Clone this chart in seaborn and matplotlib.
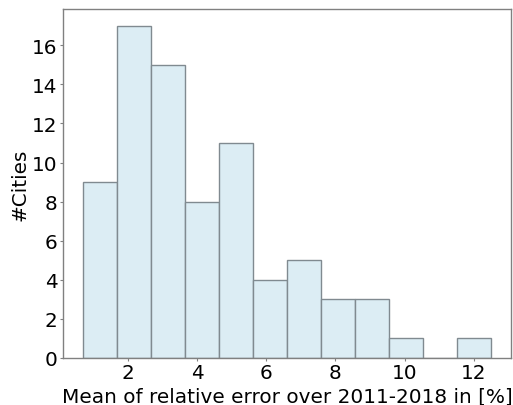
import matplotlib
matplotlib.use("Agg")
import matplotlib.pyplot as plt
import seaborn as sns
import numpy as np
import pandas as pd

# Histogram data
bin_start = 0.715
bin_width = 0.981
counts = [9, 17, 15, 8, 11, 4, 5, 3, 3, 1, 0, 1]
xlabel = "Mean of relative error over 2011-2018 in [%]"
ylabel = "#Cities"

edges = [float(v) for v in bin_start + bin_width * np.arange(len(counts) + 1)]
centers = [(a + b) / 2 for a, b in zip(edges[:-1], edges[1:])]
df = pd.DataFrame({"err": centers, "n": counts})

sns.set_style("white")
plt.rcParams['font.family'] = ['DejaVu Sans']
plt.rcParams['text.color'] = 'black'
plt.rcParams['axes.labelcolor'] = 'black'
plt.rcParams['xtick.color'] = 'black'
plt.rcParams['ytick.color'] = 'black'

fs = 14.4
fig = plt.figure(figsize=(5.13, 4.06), dpi=100)
ax = fig.add_axes([0.123, 0.116, 0.873, 0.859])
sns.histplot(data=df, x="err", weights="n", bins=edges, ax=ax,
             color="#dcedf4", alpha=1.0, edgecolor="#808a90", linewidth=1.0)

ax.set_xlabel(xlabel, fontsize=fs, labelpad=3)
ax.set_ylabel(ylabel, fontsize=fs, labelpad=1.5)
ax.set_yticks(range(0, 17, 2))
ax.set_xticks(range(2, 13, 2))
ax.tick_params(axis="both", labelsize=fs, length=2.5, pad=1.5, direction="out",
               bottom=True, left=True, labelcolor="black")
ax.tick_params(axis="both", which="major", color="#808080")
for s in ax.spines.values():
    s.set_color("#808080")
    s.set_linewidth(1.0)

fig.savefig("out.png", dpi=100)
